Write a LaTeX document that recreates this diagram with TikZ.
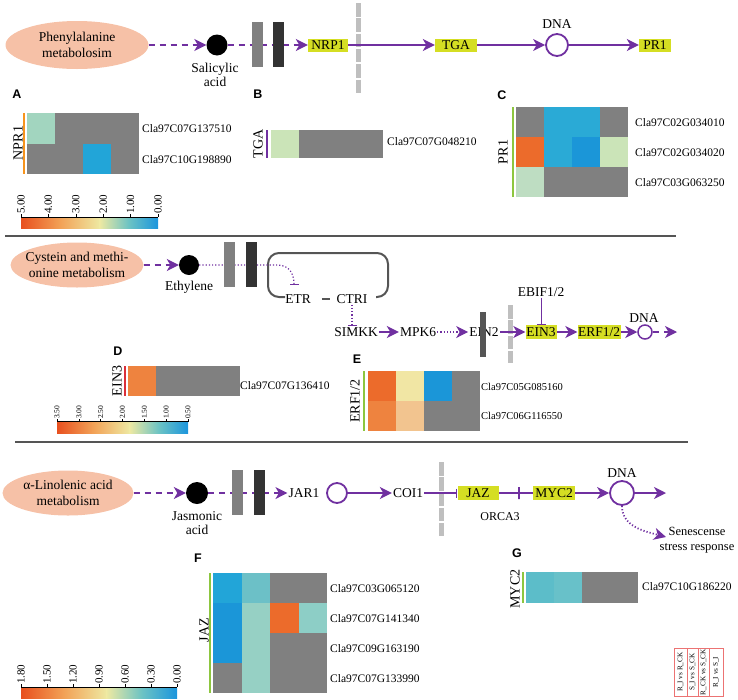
\documentclass[tikz,border=0pt]{standalone}
\usepackage{fontspec}
\setmainfont{Liberation Serif}
\newfontfamily\panelfont{Liberation Sans}
\usetikzlibrary{arrows.meta,shapes.geometric}
\definecolor{PathPurple}{HTML}{7030A0}
\definecolor{MetabSalmon}{HTML}{F6C1A7}
\definecolor{GeneYellow}{HTML}{D5DE23}
\definecolor{BarLight}{HTML}{808080}
\definecolor{BarDark}{HTML}{333333}
\definecolor{MemGray}{HTML}{BFBFBF}
\definecolor{RuleGray}{HTML}{555555}
\definecolor{HmGray}{HTML}{808080}
\definecolor{HmBlue}{HTML}{22A5D8}
\definecolor{HmSky}{HTML}{2AAAD6}
\definecolor{HmDeep}{HTML}{1B96D8}
\definecolor{HmMint}{HTML}{A2D5BF}
\definecolor{HmSage}{HTML}{CBE4B8}
\definecolor{HmPale}{HTML}{BEDDC2}
\definecolor{HmOrange}{HTML}{EC6B2B}
\definecolor{HmOrangeL}{HTML}{EE833F}
\definecolor{HmApricot}{HTML}{F2C48F}
\definecolor{HmCream}{HTML}{F1E6A4}
\definecolor{HmTeal}{HTML}{6CC0C7}
\definecolor{HmAqua}{HTML}{96D0C4}
\definecolor{HmAquaB}{HTML}{8DCEC6}
\definecolor{HmCyan}{HTML}{5CBDC9}
\definecolor{HmCyanB}{HTML}{68C1C9}
\definecolor{SideOrange}{HTML}{F7941D}
\definecolor{SideGreen}{HTML}{8DC63F}
\definecolor{SideRed}{HTML}{DA2F3A}
\definecolor{KeyRed}{HTML}{EC7373}
\definecolor{ScRed}{HTML}{E8501F}
\definecolor{ScOrange}{HTML}{F2A257}
\definecolor{ScYellow}{HTML}{EEE9A2}
\definecolor{ScTeal}{HTML}{6CC3C4}
\definecolor{ScBlue}{HTML}{1B95DD}

\begin{document}
\begin{tikzpicture}[x=1pt,y=-1pt,
  pw/.style={draw=PathPurple,line width=1.4pt},
  arr/.style={-{Stealth[length=12pt,width=12pt,inset=3.5pt]}},
  inhib/.style={-{Bar[width=9pt,line width=1.2pt]}},
  solidpath/.style={pw,arr},
  dashpath/.style={pw,arr,dash pattern=on 6pt off 5pt},
  dotpath/.style={pw,line width=1.2pt,dash pattern=on 1.2pt off 2pt},
  metab/.style={ellipse,fill=MetabSalmon,inner sep=0,align=center,font=\fontsize{13.5}{16}\selectfont},
  ligand/.style={circle,fill=black,inner sep=0},
  dnacirc/.style={circle,draw=PathPurple,line width=1.8pt,inner sep=0},
  mol/.style={inner sep=1pt,font=\fontsize{13.5}{14}\selectfont},
  genebox/.style={fill=GeneYellow,inner sep=0,minimum height=13pt,text height=9pt,text depth=0pt,font=\fontsize{13.5}{15}\selectfont},
  tickmark/.style={draw=PathPurple,line width=1.4pt,minimum width=0pt,minimum height=12pt,inner sep=0},
  gid/.style={anchor=west,inner sep=0,font=\fontsize{11.5}{13}\selectfont},
  sidelbl/.style={rotate=90,inner sep=0,font=\fontsize{14}{15}\selectfont},
  scl/.style={rotate=90,anchor=west,inner sep=0,font=\fontsize{11}{12}\selectfont},
  panel/.style={inner sep=0,font=\panelfont\bfseries\fontsize{12.5}{14}\selectfont},
  membrane/.style={draw=MemGray,line width=5pt,dash pattern=on 13.5pt off 1.8pt},
  keytxt/.style={rotate=90,inner sep=0,font=\fontsize{7.2}{8}\selectfont}]
\useasboundingbox (0,0) rectangle (738,699);

\foreach \x/\ya/\yb in {358/3/93,510/305/363,441/462/536}
  \draw[membrane] (\x,\ya) -- (\x,\yb);

\node[metab,minimum width=143pt,minimum height=48pt] (pheEll) at (77,45) {Phenylalanine\\metabolosim};
\node[ligand,minimum size=21pt] (saDot) at (217,45) {};
\node[mol,align=center] (saLbl) at (215,75) {Salicylic\\acid};
\node[genebox,minimum width=40pt] (npr1) at (328,45) {NRP1};
\node[genebox,minimum width=42pt] (tga) at (456,45) {TGA};
\node[dnacirc,minimum size=22pt] (dnaA) at (557,45) {};
\node[mol] (dnaAlbl) at (557,24) {DNA};
\node[genebox,minimum width=32pt] (pr1) at (655,45) {PR1};
\draw[dashpath] (pheEll) -- (saDot);
\draw[dashpath] (saDot) -- (npr1);
\draw[solidpath] (npr1) -- (tga);
\draw[solidpath] (tga) -- (dnaA);
\draw[solidpath] (dnaA) -- (pr1);

\node[metab,minimum width=133pt,minimum height=45pt,inner xsep=-7pt] (cysEll) at (77,265) {Cystein and methi-\\onine metabolism};
\node[ligand,minimum size=20pt] (ethDot) at (189,265) {};
\node[mol] (ethLbl) at (189,287) {Ethylene};
\node[mol] (etr) at (298,299) {ETR};
\node[mol] (ctr) at (352,299) {CTRI};
\node[mol] (simkk) at (356,332) {SIMKK};
\node[mol] (mpk6) at (418,332) {MPK6};
\node[mol] (ein2) at (484,332) {EIN2};
\node[genebox,minimum width=31pt,minimum height=14pt] (ein3) at (541,332) {EIN3};
\node[mol] (ebif) at (541,292) {EBIF1/2};
\node[genebox,minimum width=43pt,minimum height=14pt] (erf) at (599,332) {ERF1/2};
\node[dnacirc,minimum size=14pt,line width=1.5pt] (dnaB) at (645,332) {};
\node[mol] (dnaBlbl) at (644,318) {DNA};
\coordinate (endB) at (677,332);
\coordinate (etrTop) at (294,285);
\draw[RuleGray,line width=2pt,rounded corners=11pt] (285,297) -- (268,297) -- (268,253) -- (388,253) -- (388,297) -- (376,297);
\draw[RuleGray,line width=2pt,shorten <=10pt,shorten >=5pt] (etr) -- (ctr);
\draw[dashpath] (cysEll) -- (ethDot);
\draw[dotpath,inhib] (ethDot.east) -- ++(78,0) .. controls +(13,0) and +(0,-10) .. (etrTop);
\draw[dotpath,inhib] (ctr.south) -- (ctr.south |- simkk.north);
\draw[solidpath] (simkk) -- (mpk6);
\draw[dotpath,arr] (mpk6) -- (ein2);
\draw[solidpath] (ein2) -- (ein3);
\draw[pw,line width=1pt,inhib] (ebif.south) -- (ebif.south |- ein3.north);
\draw[solidpath] (ein3) -- (erf);
\draw[solidpath] (erf) -- (dnaB);
\draw[dashpath] (dnaB) -- (endB);
\fill[RuleGray] (480,312) rectangle (486,357);

\node[metab,minimum width=131pt,minimum height=45pt] (linEll) at (68,493) {α-Linolenic acid\\metabolism};
\node[ligand,minimum size=22pt] (jaDot) at (197,493) {};
\node[mol,align=center] (jaLbl) at (197,523) {Jasmonic\\acid};
\node[mol] (jar1) at (304,493) {JAR1};
\node[dnacirc,minimum size=20pt] (jarC) at (337,493) {};
\node[mol] (coi1) at (408,493) {COI1};
\node[genebox,minimum width=41pt,minimum height=14pt] (jaz) at (478,493) {JAZ};
\node[genebox,minimum width=42pt,minimum height=14pt] (myc2) at (554,493) {MYC2};
\node[mol,font=\fontsize{12}{13}\selectfont] (orca3) at (500,517) {ORCA3};
\node[dnacirc,minimum size=24pt] (dnaC) at (622,493) {};
\node[mol] (dnaClbl) at (622,473) {DNA};
\coordinate (endC) at (666,493);
\node[mol,align=center,font=\fontsize{12.5}{15}\selectfont] (sen) at (697,540) {Senescense\\stress response};
\coordinate (senTip) at (666,537);
\draw[dashpath] (linEll) -- (jaDot);
\draw[dashpath] (jaDot) -- (jar1);
\draw[solidpath] (jarC) -- (coi1);
\draw[pw,inhib] (coi1) -- (jaz);
\draw[pw] (jaz) -- node[tickmark,pos=0.6] (jzTick) {} (myc2);
\draw[solidpath] (myc2) -- (dnaC);
\draw[solidpath] (dnaC) -- (endC);
\draw[dotpath,line width=1.8pt,arr] (dnaC.south) to[out=-90,in=165] (senTip);

\foreach \ya/\xa/\dx in {22/252/21,242/224/22,470/232/22} {
  \fill[BarLight] (\xa,\ya) rectangle ++(11,45);
  \fill[BarDark] (\xa+\dx,\ya) rectangle ++(11,45);
}

\node[panel] (labA) at (17,94) {A};
\node[panel] (labB) at (258,94) {B};
\node[panel] (labC) at (502,95) {C};
\node[panel] (labD) at (118,351) {D};
\node[panel] (labE) at (357,359) {E};
\node[panel] (labF) at (198,558) {F};
\node[panel] (labG) at (517,553) {G};

\foreach \row [count=\j from 0] in {{HmMint,HmGray,HmGray,HmGray},{HmGray,HmGray,HmBlue,HmGray}}
  \foreach \c [count=\i from 0] in \row
    \fill[\c] (27+28*\i,113+30.5*\j) rectangle ++(28,30.5);
\draw[SideOrange,line width=2pt] (24,113) -- (24,174);
\node[sidelbl] (hmA) at (18,143) {NPR1};
\foreach \g [count=\j from 0] in {Cla97C07G137510,Cla97C10G198890}
  \node[gid] (gA\j) at (142,129+31*\j) {\g};
\shade[left color=ScRed,right color=ScYellow,middle color=ScOrange] (21,218) rectangle (100,228);
\shade[left color=ScYellow,right color=ScBlue,middle color=ScTeal] (99.5,218) rectangle (158,228);
\draw[line width=0.5pt] (21,217) -- (158,217);
\foreach \v [count=\i from 0] in {5.00,4.00,3.00,2.00,1.00,0.00} {
  \draw[line width=0.5pt] (21+27.4*\i,214) -- ++(0,3);
  \node[scl] (sA\i) at (21+27.4*\i,214) {\v};
}

\foreach \c [count=\i from 0] in {HmSage,HmGray,HmGray,HmGray}
  \fill[\c] (271+28*\i,130) rectangle ++(28,28);
\draw[PathPurple,line width=2pt] (267,130) -- (267,158);
\node[sidelbl] (hmB) at (258,144) {TGA};
\node[gid] (gB0) at (387,142) {Cla97C07G048210};

\foreach \row [count=\j from 0] in {{HmGray,HmSky,HmSky,HmGray},{HmOrange,HmSky,HmDeep,HmSage},{HmPale,HmGray,HmGray,HmGray}}
  \foreach \c [count=\i from 0] in \row
    \fill[\c] (516+28*\i,107+30*\j) rectangle ++(28,30);
\draw[SideGreen,line width=2pt] (513,107) -- (513,197);
\node[sidelbl] (hmC) at (503,152) {PR1};
\foreach \g [count=\j from 0] in {Cla97C02G034010,Cla97C02G034020,Cla97C03G063250}
  \node[gid] (gC\j) at (635,123+30*\j) {\g};

\draw[RuleGray,line width=1.3pt] (5,236) -- (676,236);

\foreach \c [count=\i from 0] in {HmOrangeL,HmGray,HmGray,HmGray}
  \fill[\c] (128+28*\i,366) rectangle ++(28,30);
\draw[SideRed,line width=2pt] (125,366) -- (125,396);
\node[sidelbl] (hmD) at (117,381) {EIN3};
\node[gid] (gD0) at (240,386) {Cla97C07G136410};
\shade[left color=ScRed,right color=ScYellow,middle color=ScOrange] (57,422) rectangle (130,433);
\shade[left color=ScYellow,right color=ScBlue,middle color=ScTeal] (129.5,422) rectangle (188,433);
\draw[line width=0.4pt] (57,421.5) -- (188,421.5);
\foreach \v [count=\i from 0] in {3.50,3.00,2.50,2.00,1.50,1.00,0.50} {
  \draw[line width=0.4pt] (57+21.83*\i,419) -- ++(0,2.5);
  \node[scl,font=\fontsize{7.5}{8}\selectfont] (sD\i) at (57+21.83*\i,419) {\v};
}

\foreach \row [count=\j from 0] in {{HmOrange,HmCream,HmDeep,HmGray},{HmOrangeL,HmApricot,HmGray,HmGray}}
  \foreach \c [count=\i from 0] in \row
    \fill[\c] (368+28*\i,371+30*\j) rectangle ++(28,30);
\draw[SideGreen,line width=2pt] (364,371) -- (364,431);
\node[sidelbl] (hmE) at (355,401) {ERF1/2};
\foreach \g [count=\j from 0] in {Cla97C05G085160,Cla97C06G116550}
  \node[gid,font=\fontsize{10.5}{12}\selectfont] (gE\j) at (481,387+29*\j) {\g};

\draw[RuleGray,line width=1.3pt] (15,442) -- (688,442);

\foreach \row [count=\j from 0] in {{HmBlue,HmTeal,HmGray,HmGray},{HmDeep,HmAqua,HmOrange,HmAquaB},{HmDeep,HmAqua,HmGray,HmGray},{HmGray,HmAqua,HmGray,HmGray}}
  \foreach \c [count=\i from 0] in \row
    \fill[\c] (213+28.5*\i,573+30*\j) rectangle ++(28.5,30);
\draw[SideGreen,line width=2pt] (210,573) -- (210,693);
\node[sidelbl] (hmF) at (204,630) {JAZ};
\foreach \g [count=\j from 0] in {Cla97C03G065120,Cla97C07G141340,Cla97C09G163190,Cla97C07G133990}
  \node[gid] (gF\j) at (330,589+30*\j) {\g};
\shade[left color=ScRed,right color=ScYellow,middle color=ScOrange] (21,688) rectangle (107,698);
\shade[left color=ScYellow,right color=ScBlue,middle color=ScTeal] (106.5,688) rectangle (177,698);
\draw[line width=0.5pt] (21,687) -- (177,687);
\foreach \v [count=\i from 0] in {1.80,1.50,1.20,0.90,0.60,0.30,0.00} {
  \draw[line width=0.5pt] (21+26*\i,684) -- ++(0,3);
  \node[scl] (sF\i) at (21+26*\i,684) {\v};
}

\foreach \c [count=\i from 0] in {HmCyan,HmCyanB,HmGray,HmGray}
  \fill[\c] (526+28*\i,572) rectangle ++(28,31);
\draw[SideGreen,line width=2pt] (523,572) -- (523,603);
\node[sidelbl] (hmG) at (515,589) {MYC2};
\node[gid] (gG0) at (642,587) {Cla97C10G186220};

\foreach \xa/\xb/\t [count=\k] in {674/687/{R\_I vs R\_CK},687/698/{S\_I vs S\_CK},698/709/{R\_CK vs S\_CK},709/723/{R\_I vs S\_I}} {
  \draw[KeyRed,line width=0.8pt] (\xa,648) rectangle (\xb,696);
  \node[keytxt] (key\k) at ({(\xa+\xb)/2},672) {\t};
}
\end{tikzpicture}
\end{document}
